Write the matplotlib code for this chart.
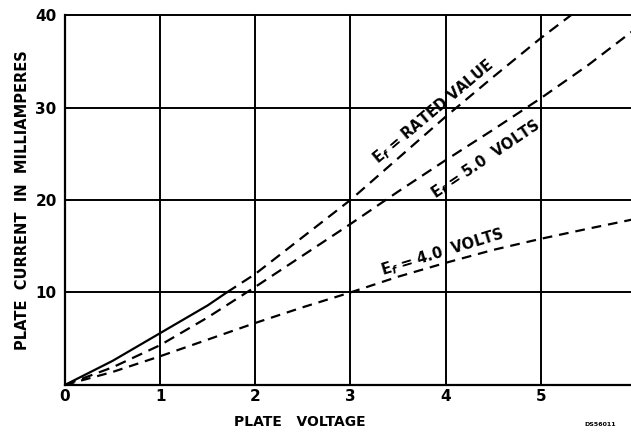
import matplotlib
matplotlib.use('Agg')
import matplotlib.pyplot as plt

plt.rcParams['font.family'] = ['DejaVu Sans']
plt.rcParams['font.weight'] = 'bold'
plt.rcParams['lines.scale_dashes'] = False

# -------------------------------------------------
# data (plate voltage -> plate current mA)
# -------------------------------------------------
rated_solid_v = [0, 0.5, 1.0, 1.5, 1.7]
rated_solid_i = [0, 2.6, 5.6, 8.6, 10.0]
rated_dash_v = [1.7, 2.0, 2.5, 3.0, 3.5, 4.0, 4.5, 5.0, 5.32]
rated_dash_i = [10.0, 12.0, 16.0, 20.0, 24.5, 29.0, 33.3, 37.5, 40.0]

v5_v = [0, 0.5, 1.0, 1.5, 2.0, 2.5, 3.0, 3.5, 4.0, 4.5, 5.0, 5.5, 5.97]
v5_i = [0, 1.9, 4.3, 7.3, 10.6, 14.0, 17.4, 20.9, 24.3, 27.6, 31.0, 34.6, 38.3]

v4_v = [0, 0.5, 1.0, 1.5, 2.0, 2.5, 3.0, 3.5, 4.0, 4.5, 5.0, 5.5, 5.97]
v4_i = [0, 1.4, 3.1, 4.9, 6.7, 8.4, 10.0, 11.7, 13.2, 14.6, 15.8, 16.9, 17.9]

x_ticks = [0, 1, 2, 3, 4, 5]
y_ticks = [10, 20, 30, 40]

# -------------------------------------------------
# figure
# -------------------------------------------------
fig = plt.figure(figsize=(6.31, 4.32), dpi=100)
ax = fig.add_axes([0.103, 0.109, 0.897, 0.856])

ax.set_xlim(0, 5.95)
ax.set_ylim(0, 40)

# grid
for v in x_ticks[1:]:
    ax.axvline(v, color='black', lw=1.4, zorder=1)
for c in y_ticks:
    ax.axhline(c, color='black', lw=1.4, zorder=1, clip_on=False)

for s in ['top', 'right']:
    ax.spines[s].set_visible(False)
ax.spines['left'].set_linewidth(1.6)
ax.spines['bottom'].set_linewidth(1.6)

# curves
ax.plot(rated_solid_v, rated_solid_i, color='black', lw=1.6)
ax.plot(rated_dash_v, rated_dash_i, color='black', lw=1.6, dashes=(8, 5))
ax.plot(v5_v, v5_i, color='black', lw=1.6, dashes=(8, 5))
ax.plot(v4_v, v4_i, color='black', lw=1.6, dashes=(7, 5))

# ticks
ax.set_xticks(x_ticks)
ax.set_yticks(y_ticks)
ax.tick_params(axis='x', length=0, labelsize=11, pad=3)
ax.tick_params(axis='y', length=0, labelsize=11, pad=6)
for lab in ax.get_xticklabels() + ax.get_yticklabels():
    lab.set_fontweight('bold')
# the "6" sits at the right edge and is mostly cut off, as in the original
ax.text(5.99, -1.0, '6', ha='left', va='top', fontsize=11, fontweight='bold',
        clip_on=False)

ax.set_ylabel('PLATE  CURRENT  IN  MILLIAMPERES', fontsize=10.5,
              fontweight='bold', labelpad=4)
fig.text(300 / 631, 1 - 422 / 432, 'PLATE   VOLTAGE', ha='center', va='center',
         fontsize=10, fontweight='bold')
fig.text(600 / 631, 1 - 424 / 432, 'DS56011', ha='center', va='center',
         fontsize=4.5, fontweight='bold')

# curve labels
ax.text(3.87, 29.5, r'E$_f$ = RATED VALUE', rotation=40, ha='center',
        va='center', fontsize=10.5, fontweight='bold', rotation_mode='anchor')
ax.text(4.42, 24.4, r'E$_f$ = 5.0  VOLTS', rotation=34, ha='center',
        va='center', fontsize=10.5, fontweight='bold', rotation_mode='anchor')
ax.text(3.97, 14.3, r'E$_f$ = 4.0  VOLTS', rotation=17, ha='center',
        va='center', fontsize=10.5, fontweight='bold', rotation_mode='anchor')

fig.savefig('out.png', dpi=100)
